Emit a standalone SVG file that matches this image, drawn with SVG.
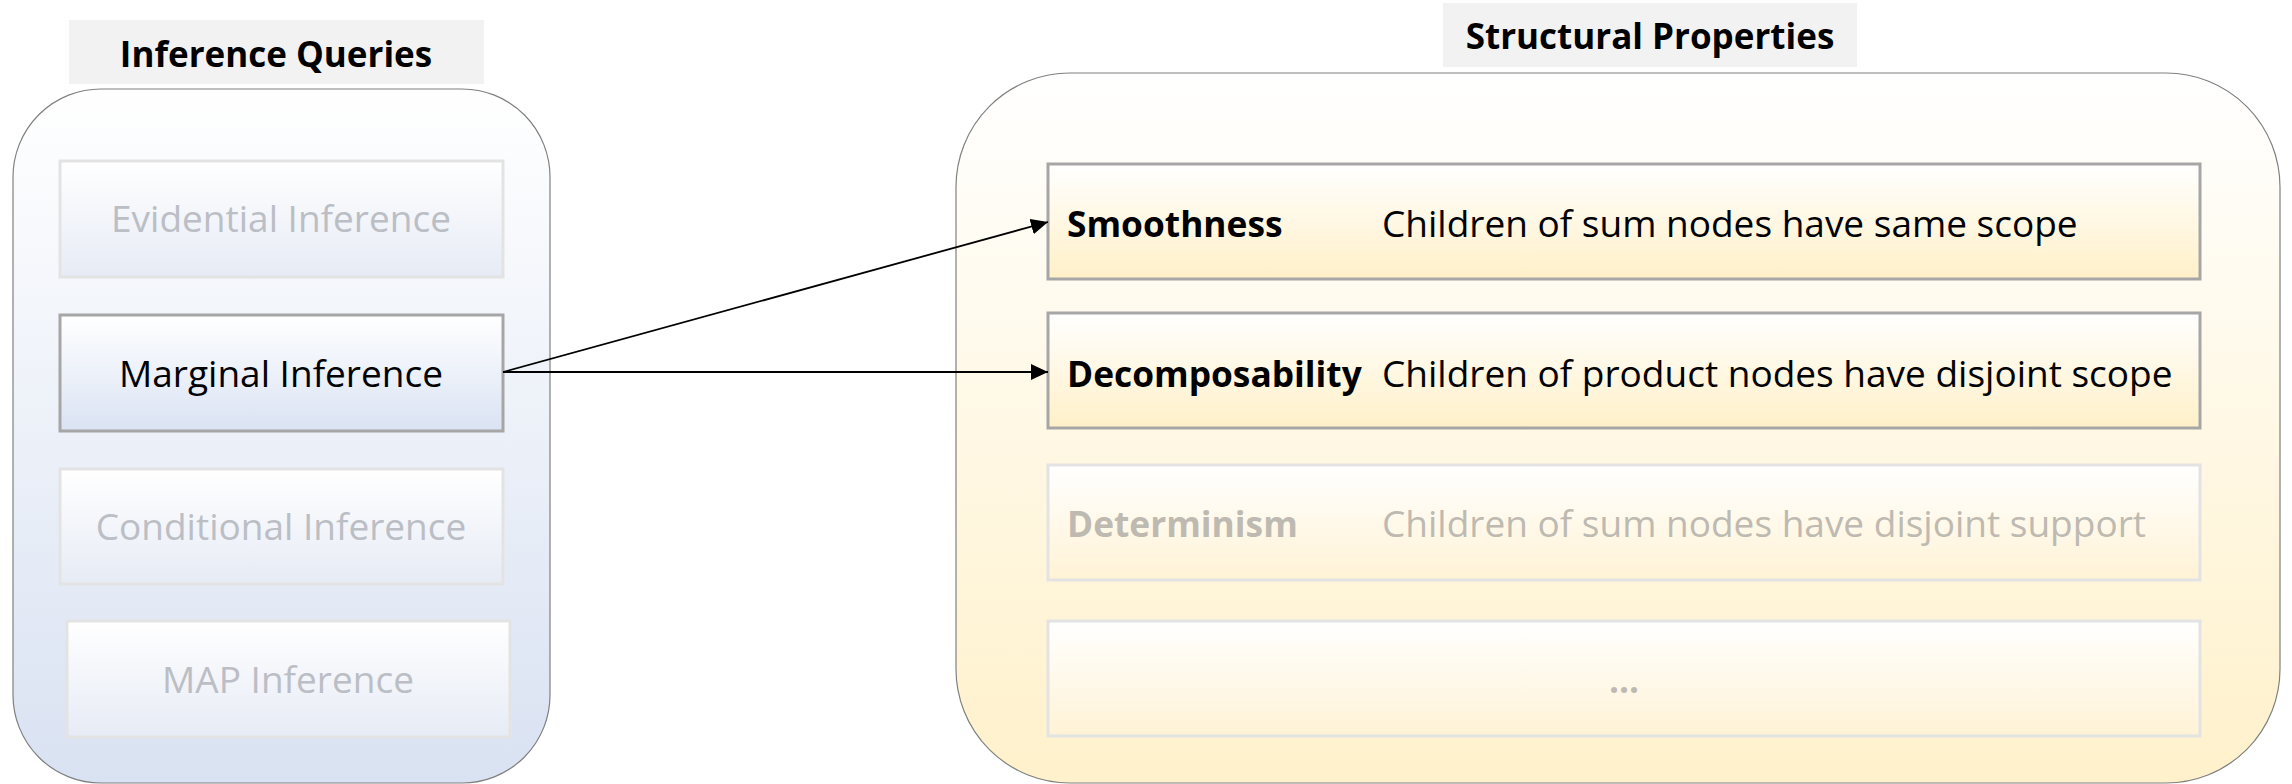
<svg xmlns="http://www.w3.org/2000/svg" width="2292" height="784" viewBox="0 0 2292 784">
<defs>
<linearGradient id="gBlueC" x1="0" y1="0" x2="0" y2="1"><stop offset="0" stop-color="#ffffff"/><stop offset="1" stop-color="#d9e2f2"/></linearGradient>
<linearGradient id="gYelC" x1="0" y1="0" x2="0" y2="1"><stop offset="0" stop-color="#ffffff"/><stop offset="1" stop-color="#fff1cb"/></linearGradient>
<linearGradient id="gBlue" x1="0" y1="0" x2="0" y2="1"><stop offset="0" stop-color="#ffffff"/><stop offset="1" stop-color="#dae3f3"/></linearGradient>
<linearGradient id="gBlueF" x1="0" y1="0" x2="0" y2="1"><stop offset="0" stop-color="#ffffff"/><stop offset="1" stop-color="#e6ebf5"/></linearGradient>
<linearGradient id="gYel" x1="0" y1="0" x2="0" y2="1"><stop offset="0" stop-color="#ffffff"/><stop offset="1" stop-color="#fff0c8"/></linearGradient>
<linearGradient id="gYelF" x1="0" y1="0" x2="0" y2="1"><stop offset="0" stop-color="#ffffff"/><stop offset="1" stop-color="#fff3d6"/></linearGradient>
<marker id="arr" markerUnits="userSpaceOnUse" markerWidth="18" markerHeight="16" refX="17" refY="8" orient="auto"><path d="M0,0 L17,8 L0,16 z" fill="#000"/></marker>
</defs>
<style>
text { font-family: "Open Sans", "Liberation Sans", sans-serif; }
.title { font-weight: bold; font-size: 35px; fill: #000; }
.t { font-size: 37px; fill: #000; }
.b { font-weight: bold; font-size: 35.3px; fill: #000; }
.fadeB { fill: #bbbec4; }
.fadeY { fill: #bebab1; }
.tbox { fill: #f2f2f2; }
.box { stroke: #a6a6a6; stroke-width: 3; }
.boxF { stroke: #e3e3e3; stroke-width: 3; }
.cont { stroke: #808080; stroke-width: 1.2; }
.conn { stroke: #000; stroke-width: 1.8; fill: none; marker-end: url(#arr); }
</style>

<g id="title-inference">
<rect class="tbox" x="69" y="20" width="415" height="64"/>
<text class="title" x="276" y="67" text-anchor="middle">Inference Queries</text>
</g>
<g id="title-structural">
<rect class="tbox" x="1443" y="3" width="414" height="64"/>
<text class="title" x="1650" y="49" text-anchor="middle">Structural Properties</text>
</g>

<g id="container-inference">
<rect class="cont" x="13" y="89" width="537" height="694" rx="88" ry="88" fill="url(#gBlueC)"/>
</g>
<g id="container-structural">
<rect class="cont" x="956" y="73" width="1324" height="710" rx="114" ry="114" fill="url(#gYelC)"/>
</g>

<g id="evidential">
<rect class="boxF" x="60" y="161" width="443" height="116" fill="url(#gBlueF)"/>
<text class="t fadeB" x="281" y="232" text-anchor="middle">Evidential Inference</text>
</g>
<g id="marginal">
<rect class="box" x="60" y="315" width="443" height="116" fill="url(#gBlue)"/>
<text class="t" x="281" y="387" text-anchor="middle">Marginal Inference</text>
</g>
<g id="conditional">
<rect class="boxF" x="60" y="469" width="443" height="115" fill="url(#gBlueF)"/>
<text class="t fadeB" x="281" y="540" text-anchor="middle">Conditional Inference</text>
</g>
<g id="map">
<rect class="boxF" x="67" y="621" width="443" height="116" fill="url(#gBlueF)"/>
<text class="t fadeB" x="288" y="693" text-anchor="middle">MAP Inference</text>
</g>

<g id="smoothness">
<rect class="box" x="1048" y="164" width="1152" height="115" fill="url(#gYel)"/>
<text class="b" x="1067" y="237">Smoothness</text>
<text class="t" x="1382" y="237">Children of sum nodes have same scope</text>
</g>
<g id="decomposability">
<rect class="box" x="1048" y="313" width="1152" height="115" fill="url(#gYel)"/>
<text class="b" x="1067" y="387">Decomposability</text>
<text class="t" x="1382" y="387">Children of product nodes have disjoint scope</text>
</g>
<g id="determinism">
<rect class="boxF" x="1048" y="465" width="1152" height="115" fill="url(#gYelF)"/>
<text class="b fadeY" x="1067" y="537">Determinism</text>
<text class="t fadeY" x="1382" y="537">Children of sum nodes have disjoint support</text>
</g>
<g id="more">
<rect class="boxF" x="1048" y="621" width="1152" height="115" fill="url(#gYelF)"/>
<text class="b fadeY" x="1624" y="693" text-anchor="middle">...</text>
</g>

<g id="connectors">
<line class="conn" x1="503" y1="372" x2="1048" y2="222"/>
<line class="conn" x1="503" y1="372" x2="1048" y2="372"/>
</g>
</svg>
